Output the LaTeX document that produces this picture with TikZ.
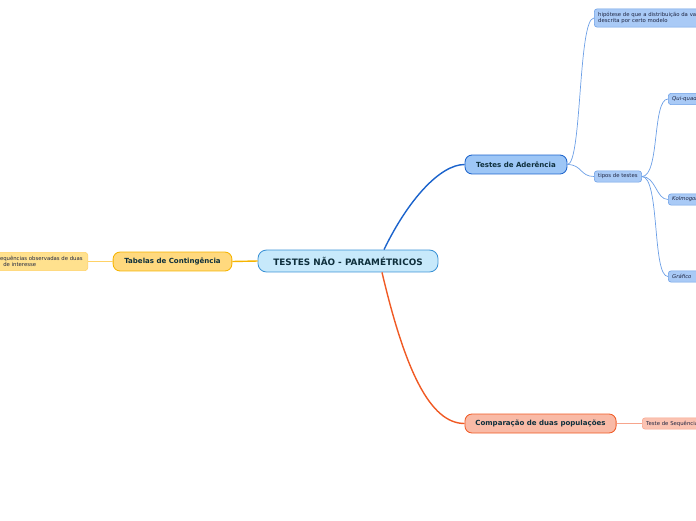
\documentclass[tikz,border=0pt]{standalone}
\usepackage{fontspec}
\setmainfont{DejaVu Sans}
\usepackage{xcolor}
\definecolor{rootfill}{HTML}{C7E9FB}
\definecolor{rootline}{HTML}{3C93D6}
\definecolor{bluefill}{HTML}{9DC6F6}
\definecolor{blueline}{HTML}{1B63CC}
\definecolor{leafblue}{HTML}{A9CAF6}
\definecolor{leafblueline}{HTML}{6C9FE6}
\definecolor{redfill}{HTML}{F9BAA6}
\definecolor{redline}{HTML}{F05A24}
\definecolor{leafred}{HTML}{FBC3B2}
\definecolor{leafredline}{HTML}{F7A58C}
\definecolor{yelfill}{HTML}{FFD97E}
\definecolor{yelline}{HTML}{F6B400}
\definecolor{leafyel}{HTML}{FFE18E}
\definecolor{leafyelline}{HTML}{FFD266}
\definecolor{inkdark}{HTML}{0E2F3C}
\definecolor{inkleaf}{HTML}{1E2440}
\usetikzlibrary{positioning}

\begin{document}
\begin{tikzpicture}[
  x=0.025cm,y=-0.025cm,
  root/.style={draw=rootline,line width=0.6pt,rounded corners=6pt,fill=rootfill,
    minimum height=15.6pt,align=center,font=\fontsize{6.3}{7}\selectfont\bfseries,text=inkdark,inner sep=0pt},
  branch/.style={draw=#1line,line width=0.6pt,rounded corners=5pt,fill=#1fill,minimum height=13.5pt,
    align=center,font=\fontsize{5}{6}\selectfont\bfseries,text=inkdark,inner sep=0pt},
  leaf/.style={draw=#1line,line width=0.4pt,rounded corners=2pt,fill=#1,minimum height=8pt,
    align=left,font=\fontsize{3.8}{4.6}\selectfont,text=inkleaf,inner ysep=0pt,inner xsep=2.8pt,anchor=west},
  link/.style={line width=#1},
  link/.default=0.9pt
]
\useasboundingbox (0,0) rectangle (696,520);
\clip (0,0) rectangle (696,520);
% central topic
\node[root,minimum width=128pt] (root) at (348,261) {TESTES NÃO - PARAMÉTRICOS};
% main branches
\node[branch=blue,minimum width=72.5pt] (ader) at (516,164.5) {Testes de Aderência};
\node[branch=red,minimum width=107.5pt] (comp) at (540.5,423.5) {Comparação de duas populações};
\node[branch=yel,minimum width=84.5pt] (tab) at (172.5,261.5) {Tabelas de Contingência};
% subtopics
\node[leaf=leafblue,minimum height=13pt,text width=95pt] (hip) at (594,18)
  {hipótese de que a distribuição da variável\\descrita por certo modelo};
\node[leaf=leafblue] (tipos) at (594,176.5) {tipos de testes};
\node[leaf=leafblue,text width=40pt] (qui) at (668,99) {\itshape Qui-quadrado};
\node[leaf=leafblue,text width=40pt] (kol) at (668,199.5) {\itshape Kolmogorov};
\node[leaf=leafblue,text width=40pt] (graf) at (668,276.5) {\itshape Gráfico};
\node[leaf=leafred,text width=50pt] (seq) at (642,423.5) {Teste de Sequência};
\node[leaf=leafyel,minimum height=13pt,anchor=east,inner xsep=3.6pt] (freq) at (88,261.5)
  {Frequências observadas de duas\\\phantom{Fre}de interesse};
% connectors
\draw[link=1pt,draw=blueline] (root.north) ++(36,0) coordinate (r1) .. controls (408,200) and (440,164.5) .. (ader.west);
\draw[link=1pt,draw=redline] (root.south) ++(34,0) coordinate (r2) .. controls (405,370) and (430,423.5) .. (comp.west);
\draw[link=1pt,draw=yelline] (root.west) -- (tab.east);
\draw[link=0.5pt,draw=leafyelline] (tab.west) -- (freq.east);
\draw[link=0.5pt,draw=leafblueline] (ader.east) .. controls (582,164.5) and (578,18) .. (hip.west);
\draw[link=0.5pt,draw=leafblueline] (ader.east) .. controls (582,164.5) and (580,176.5) .. (tipos.west);
\draw[link=0.5pt,draw=leafblueline] (tipos.east) .. controls (660,176.5) and (652,99) .. (qui.west);
\draw[link=0.5pt,draw=leafblueline] (tipos.east) .. controls (656,176.5) and (656,199.5) .. (kol.west);
\draw[link=0.5pt,draw=leafblueline] (tipos.east) .. controls (660,176.5) and (652,276.5) .. (graf.west);
\draw[link=0.5pt,draw=leafredline] (comp.east) -- (seq.west);
\end{tikzpicture}
\end{document}
